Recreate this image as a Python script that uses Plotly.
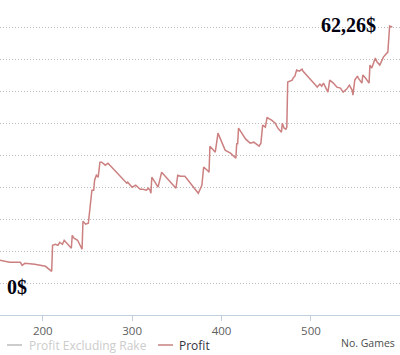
import plotly.graph_objects as go

games = [152,163,175,177,180,191,203,210,211,214,217,219,222,224,228,232,233,235,239,244,
         245,248,251,255,257,258,260,262,264,266,270,273,294,295,300,304,309,312,316,318,
         320,321,322,329,333,349,351,354,359,374,378,380,384,386,387,389,393,396,404,410,
         414,416,417,418,419,423,427,432,436,442,444,446,449,451,452,456,460,463,467,468,
         470,472,473,474,479,480,482,484,487,490,491,505,507,510,512,514,516,519,521,525,
         529,533,536,540,543,546,547,549,552,553,557,558,561,565,566,568,572,574,577,581,
         583,586,588,591]
profit = [5.59,5.11,5.11,4.38,4.86,4.62,4.13,2.92,9.24,9.48,9.24,9.97,9.48,10.46,9.48,8.51,
          11.67,10.94,10.46,8.27,15.08,14.35,14.59,22.62,22.62,25.05,26.27,25.78,29.43,29.43,
          28.70,29.18,24.32,24.56,23.35,23.83,22.86,22.86,22.62,23.10,22.62,21.89,25.78,23.35,
          27.00,23.10,26.27,26.02,26.02,21.89,23.83,28.21,27.48,27.00,33.32,32.83,31.86,36.48,
          32.35,31.62,30.64,30.40,34.05,33.80,37.70,36.48,35.02,34.05,34.29,33.32,34.05,38.43,
          37.94,40.37,40.13,39.64,38.91,37.70,36.72,38.91,37.70,37.45,37.94,48.88,49.37,49.86,
          50.34,51.80,51.56,52.04,51.56,48.15,47.67,48.40,47.91,48.64,47.67,46.45,49.37,48.64,
          47.67,47.42,46.45,47.18,48.15,46.94,45.72,49.37,50.34,49.86,48.64,50.59,49.86,48.64,
          53.02,52.29,54.72,53.75,53.02,54.96,55.45,56.18,62.50,62.26]
x_ticks = [200, 300, 400, 500]
legend_names = ["Profit Excluding Rake", "Profit"]
start_label = "0$"
end_label = "62,26$"
x_title = "No. Games"

LINE = "#CC8080"
W, H, B = 400, 355, 40
PH = H - B

def px(x):
    return x / W

def py(y):
    return (PH - y) / PH

fig = go.Figure()
fig.add_trace(go.Scatter(x=games, y=profit, mode="lines",
                         line=dict(color=LINE, width=1.5), hoverinfo="skip",
                         showlegend=False))

fig.update_layout(
    width=W, height=H,
    margin=dict(l=0, r=0, t=0, b=B),
    paper_bgcolor="white", plot_bgcolor="white",
    xaxis=dict(range=[152.2, 599.6], tickvals=x_ticks, ticks="outside", ticklen=5,
               tickcolor="#C0D0E0", showline=True, linecolor="#C0D0E0", linewidth=1,
               showgrid=False, zeroline=False,
               tickfont=dict(family="Open Sans", size=11.5, color="#606060")),
    yaxis=dict(range=[-7.7, 68.83], tick0=0, dtick=7.783, showticklabels=False,
               showgrid=True, gridcolor="#BBBBBB", gridwidth=1, griddash="1px,2px",
               zeroline=False, showline=False, ticks=""),
    showlegend=False,
)

shapes = [
    dict(type="line", xref="paper", yref="paper", x0=px(7), x1=px(22), y0=py(345), y1=py(345),
         line=dict(color="#CCCCCC", width=2)),
    dict(type="line", xref="paper", yref="paper", x0=px(158), x1=px(173), y0=py(345), y1=py(345),
         line=dict(color="#D4A0A0", width=2)),
]
fig.update_layout(shapes=shapes)

ann = [
    dict(text=legend_names[0], x=px(28), y=py(345), xanchor="left", yanchor="middle",
         font=dict(family="Open Sans", size=12, color="#CCCCCC")),
    dict(text=legend_names[1], x=px(178), y=py(345), xanchor="left", yanchor="middle",
         font=dict(family="Open Sans", size=12, color="#333340")),
    dict(text=x_title, x=px(396), y=py(343), xanchor="right", yanchor="middle",
         font=dict(family="Open Sans", size=10.5, color="#4D4D4D")),
    dict(text="<b>" + end_label + "</b>", x=px(320), y=py(25), xanchor="left", yanchor="middle",
         font=dict(family="Liberation Serif", size=20, color="#000010")),
    dict(text="<b>" + start_label + "</b>", x=px(6), y=py(287), xanchor="left", yanchor="middle",
         font=dict(family="Liberation Serif", size=20, color="#000010")),
]
for a in ann:
    a.update(xref="paper", yref="paper", showarrow=False, xshift=0, yshift=0,
             borderpad=0)
fig.update_layout(annotations=ann)

fig.write_html("out.html")
